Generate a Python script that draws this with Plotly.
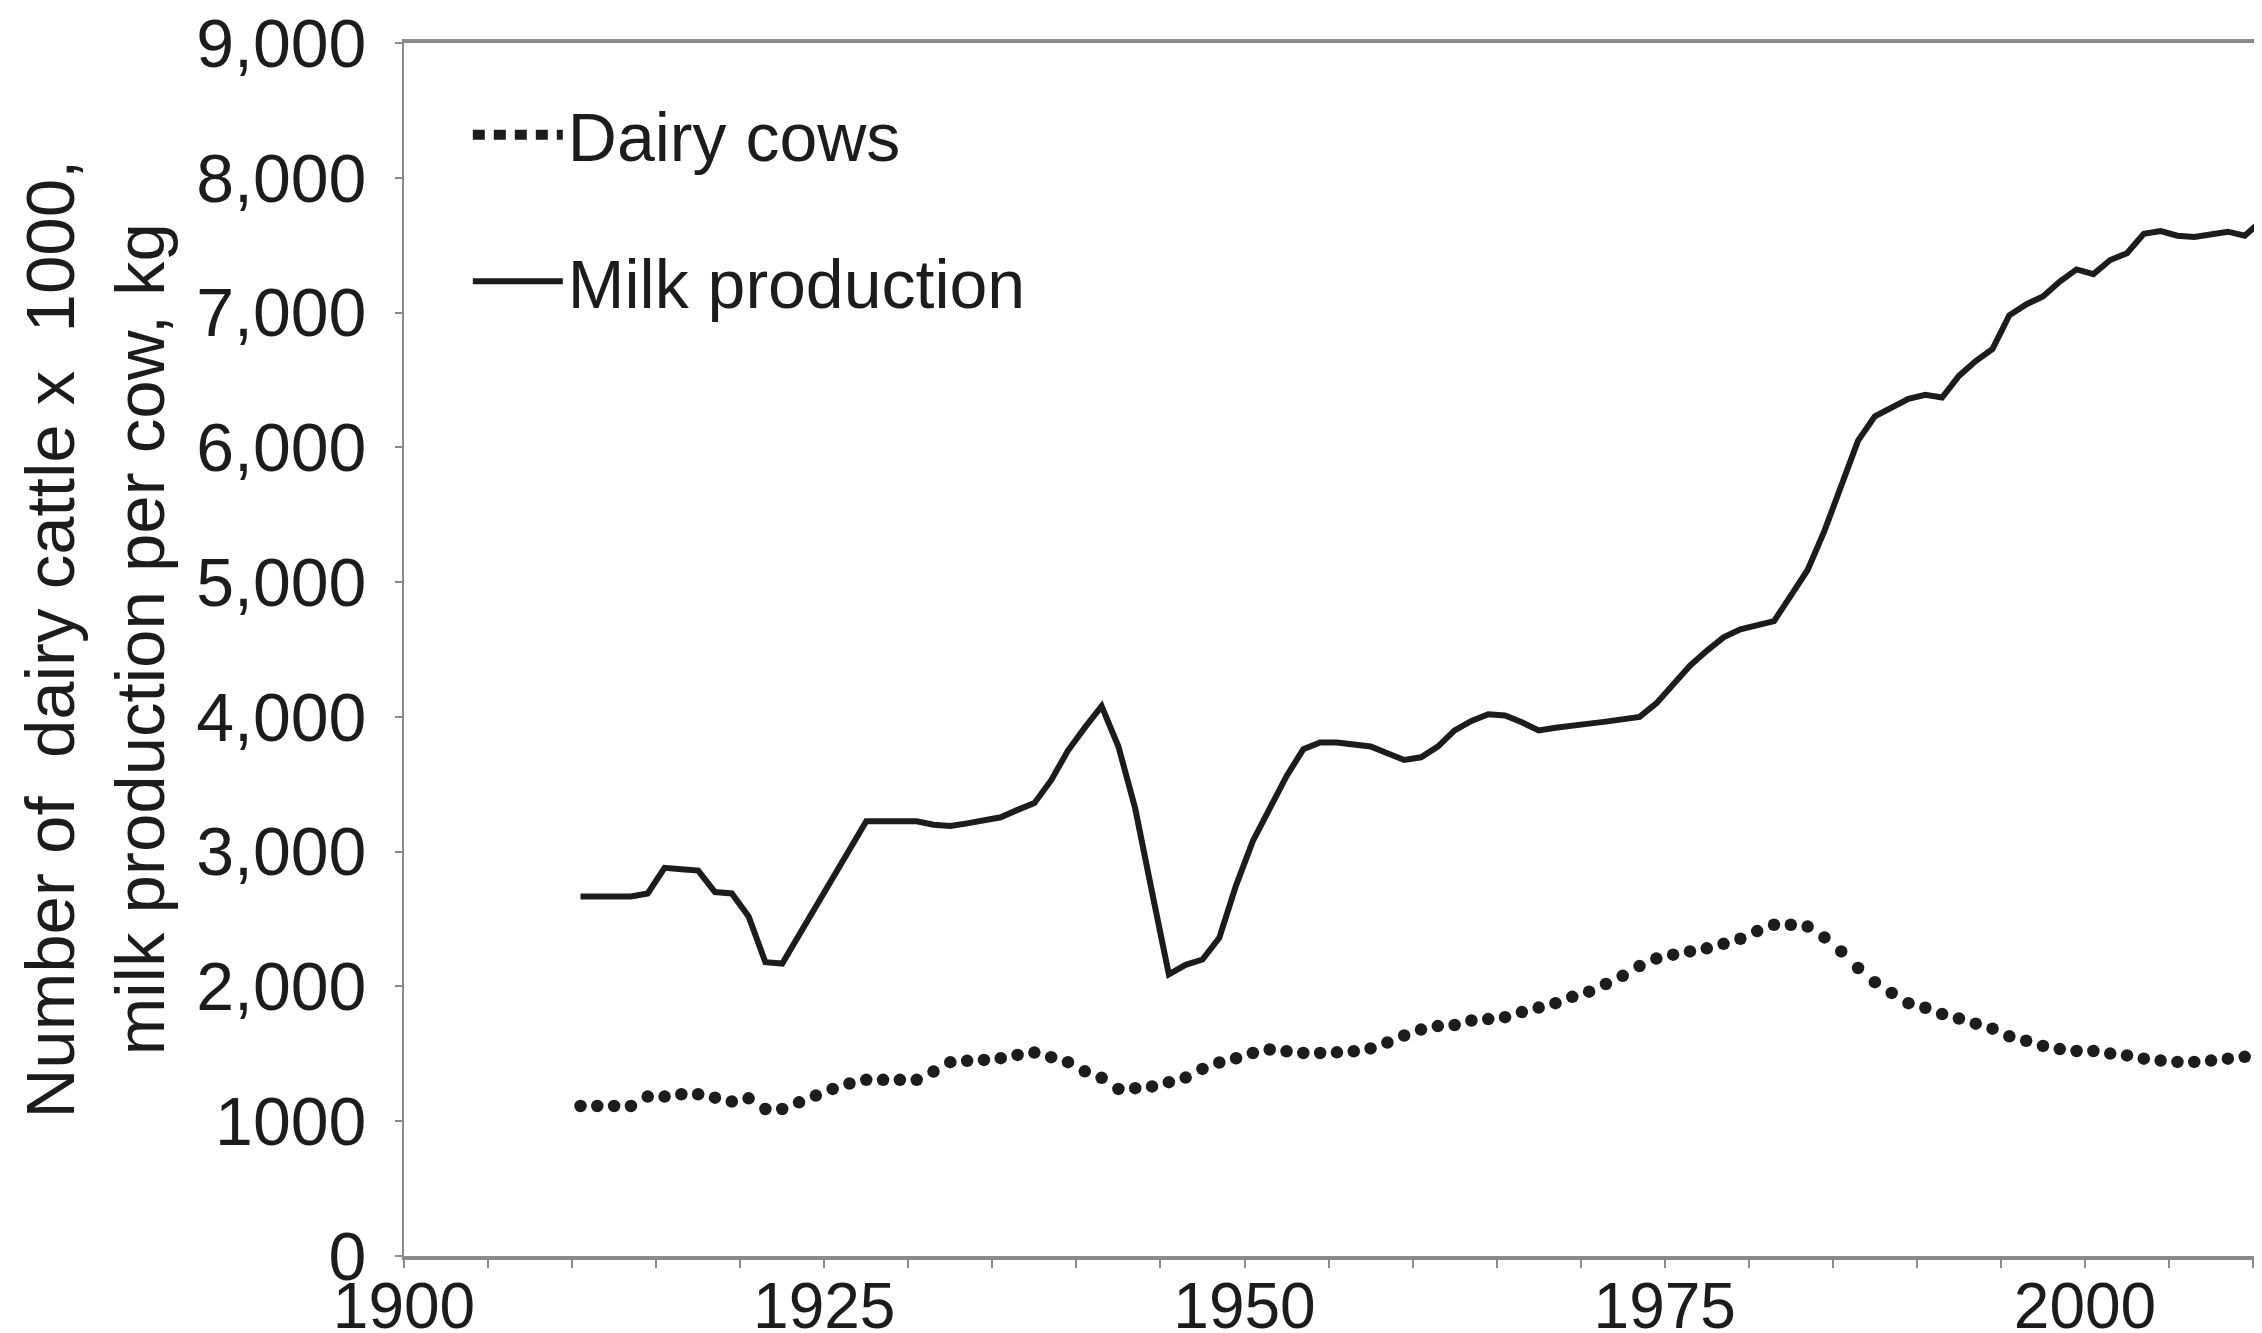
import plotly.graph_objects as go

years = list(range(1910, 2011))

dairy_cows = [
    1113, 1113, 1113, 1113, 1183, 1183, 1200, 1200, 1175, 1146,   # 1910-1919
    1170, 1091, 1091, 1140, 1190, 1240, 1280, 1307, 1307, 1307,   # 1920-1929
    1307, 1368, 1438, 1448, 1455, 1468, 1492, 1509, 1475, 1438,   # 1930-1939
    1370, 1322, 1240, 1245, 1258, 1290, 1324, 1388, 1436, 1467,   # 1940-1949
    1506, 1532, 1519, 1506, 1506, 1511, 1519, 1540, 1584, 1636,   # 1950-1959
    1680, 1706, 1714, 1747, 1758, 1772, 1810, 1843, 1876, 1923,   # 1960-1969
    1961, 2018, 2079, 2151, 2207, 2236, 2260, 2283, 2316, 2354,   # 1970-1979
    2411, 2458, 2458, 2444, 2364, 2260, 2137, 2032, 1952, 1876,   # 1980-1989
    1842, 1795, 1762, 1724, 1687, 1630, 1597, 1559, 1535, 1521,   # 1990-1999
    1521, 1502, 1488, 1464, 1450, 1440, 1440, 1450, 1464, 1478,   # 2000-2009
    1488,                                                         # 2010
]

milk_production = [
    2668, 2668, 2668, 2668, 2690, 2880, 2870, 2860, 2700, 2690,   # 1910-1919
    2520, 2180, 2170, None, None, None, None, 3225, 3225, 3225,   # 1920-1929
    3225, 3200, 3190, 3210, 3230, 3255, 3310, 3360, 3530, 3750,   # 1930-1939
    3920, 4080, 3780, 3320, 2700, 2090, 2160, 2200, 2360, 2750,   # 1940-1949
    3080, 3330, 3560, 3760, 3810, 3810, 3800, 3780, 3730, 3680,   # 1950-1959
    3700, 3780, 3900, 3970, 4020, 4010, 3960, 3900, 3920, 3940,   # 1960-1969
    3950, 3965, 3980, 4000, 4100, 4240, 4380, 4490, 4590, 4650,   # 1970-1979
    4680, 4710, 4900, 5090, 5380, 5710, 6050, 6230, 6300, 6360,   # 1980-1989
    6390, 6370, 6530, 6640, 6730, 6980, 7060, 7120, 7230, 7320,   # 1990-1999
    7285, 7390, 7440, 7585, 7605, 7570, 7560, 7585, 7600, 7570,   # 2000-2009
    7680,                                                         # 2010
]

# Category-style axis: ticks sit between yearly categories
x_tick_positions = [1899.5 + 5 * k for k in range(23)]
x_tick_labels = ["" if k % 5 else str(1900 + 5 * k) for k in range(23)]
y_tick_values = [0, 1000, 2000, 3000, 4000, 5000, 6000, 7000, 8000, 9000]
y_tick_labels = ["0", "1000", "2,000", "3,000", "4,000", "5,000", "6,000", "7,000", "8,000", "9,000"]
NB = "\u00a0"
y_title = ("Number of" + NB * 2 + "dairy cattle x" + NB * 2 + "1000,<br>"
           "milk production per cow, kg")

FONT = "Liberation Sans, Arial, sans-serif"
INK = "#1c1c1c"
AXIS = "#8a8a8a"

fig = go.Figure()

fig.add_trace(go.Scatter(
    x=years, y=dairy_cows, mode="markers", name="Dairy cows",
    marker=dict(symbol="circle", size=12.5, color=INK, line=dict(width=0)),
    showlegend=False, legendgroup="cows",
))
fig.add_trace(go.Scatter(
    x=[None], y=[None], mode="lines", name="Dairy cows",
    line=dict(color=INK, width=11, dash="12px,9px"),
    showlegend=True, legendgroup="cows",
))
fig.add_trace(go.Scatter(
    x=years, y=milk_production, mode="lines", name="Milk production",
    line=dict(color=INK, width=6), connectgaps=True,
    legendgroup="milk",
))

# The page body has an 8px default margin, so the figure is sized to fill the window after it.
fig.update_layout(
    width=2254, height=1325,
    margin=dict(l=396, r=0, t=35, b=77, autoexpand=False),
    paper_bgcolor="white", plot_bgcolor="white",
    font=dict(family=FONT, size=66, color=INK),
    showlegend=True,
    legend=dict(
        xref="container", yref="container",
        x=0.204, y=0.9426, xanchor="left", yanchor="top",
        font=dict(family=FONT, size=68, color=INK),
        bgcolor="rgba(0,0,0,0)", tracegroupgap=55,
        itemwidth=90, traceorder="grouped",
    ),
    xaxis=dict(
        automargin=False,
        range=[1899.5, 2010.03],
        tickmode="array", tickvals=x_tick_positions, ticktext=x_tick_labels,
        ticks="outside", ticklen=8, tickwidth=2, tickcolor=AXIS,
        showline=True, linecolor=AXIS, linewidth=4, mirror=True,
        showgrid=False, zeroline=False,
        tickfont=dict(family=FONT, size=64, color=INK),
        ticklabelstandoff=-17, ticklabeloverflow="allow",
    ),
    yaxis=dict(
        automargin=False,
        range=[0, 9000],
        tickmode="array", tickvals=y_tick_values, ticktext=y_tick_labels,
        ticks="outside", ticklen=7, tickwidth=2, tickcolor=AXIS,
        showline=True, linecolor=AXIS, linewidth=2,
        showgrid=False, zeroline=False,
        tickfont=dict(family=FONT, size=68, color=INK),
        ticklabelstandoff=15, ticklabeloverflow="allow",
    ),
    annotations=[dict(
        text=y_title, xref="paper", yref="paper",
        x=-0.1658, y=0.509, xanchor="center", yanchor="middle",
        textangle=-90, showarrow=False, align="center",
        font=dict(family=FONT, size=69, color=INK),
    )],
)

fig.write_html("out.html")
